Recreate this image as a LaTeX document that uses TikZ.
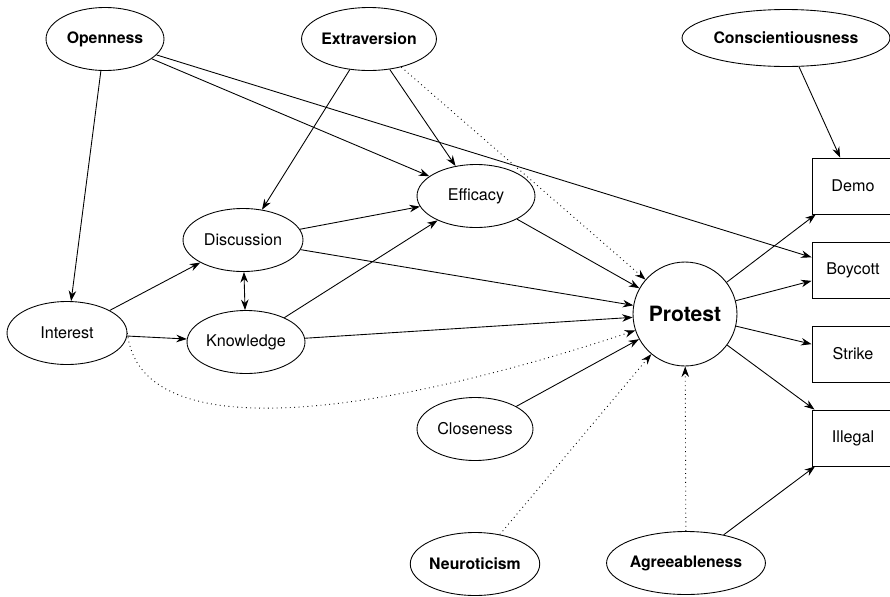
\documentclass[tikz,border=0pt]{standalone}
\usepackage{fontspec}
\setmainfont{TeX Gyre Heros}
\usetikzlibrary{shapes.geometric, arrows.meta}

\begin{document}
\begin{tikzpicture}[x=0.02cm, y=0.02cm, line width=0.5pt,
    >={Stealth[length=0.21cm, width=0.15cm]},
    every node/.style={font=\fontsize{9.2}{11}\selectfont},
    trait/.style={draw, ellipse, inner sep=0, minimum width=2.36cm, minimum height=1.26cm, font=\fontsize{9}{11}\selectfont\bfseries},
    var/.style={draw, ellipse, inner sep=0, minimum width=2.36cm, minimum height=1.26cm},
    act/.style={draw, rectangle, minimum width=1.64cm, minimum height=1.12cm},
    weak/.style={->, dotted}]
    \useasboundingbox (0,0) rectangle (890,-596);
    % personality traits
    \node [trait] (open) at (105, -39) {Openness};
    \node [trait] (extra) at (369, -39) {Extraversion};
    \node [trait, minimum width=4.16cm, minimum height=1.14cm] (consc) at (786, -38) {Conscientiousness};
    \node [trait] (neuro) at (475, -564) {Neuroticism};
    \node [trait, minimum width=2.82cm] (agree) at (686, -563) {Agreeableness};
    % mediators
    \node [var] (effic) at (476, -196) {Efficacy};
    \node [var, minimum width=2.4cm] (disc) at (243, -240) {Discussion};
    \node [var, minimum width=2.4cm] (inter) at (67, -333) {Interest};
    \node [var] (know) at (246, -342) {Knowledge};
    \node [var, minimum width=2.32cm] (close) at (475, -429) {Closeness};
    \node [draw, circle, inner sep=0, minimum size=2.08cm, font=\fontsize{12}{14}\selectfont\bfseries] (prot) at (685, -314) {Protest};
    % forms of protest
    \node [act] (demo) at (853, -186) {Demo};
    \node [act] (boyc) at (853, -270) {Boycott};
    \node [act] (strike) at (853, -354) {Strike};
    \node [act] (illeg) at (853, -438) {Illegal};
    \draw [->] (open) to (inter);
    \draw [->] (open) to (effic);
    \draw [->] (open) to (boyc);
    \draw [->] (extra) to (disc);
    \draw [->] (extra) to (effic);
    \draw [weak] (extra) to (prot);
    \draw [->] (consc) to (demo);
    \draw [->] (inter) to (disc);
    \draw [->] (inter) to (know);
    \draw [weak] (inter.east) .. controls (140, -450) and (380, -415) .. (prot);
    \draw [<->] (disc) to (know);
    \draw [->] (disc) to (effic);
    \draw [->] (disc) to (prot);
    \draw [->] (know) to (effic);
    \draw [->] (know) to (prot);
    \draw [->] (effic) to (prot);
    \draw [->] (close) to (prot);
    \draw [weak] (neuro) to (prot);
    \draw [weak] (agree) to (prot);
    \draw [->] (agree) to (illeg);
    \draw [->] (prot) to (demo);
    \draw [->] (prot) to (boyc);
    \draw [->] (prot) to (strike);
    \draw [->] (prot) to (illeg);
\end{tikzpicture}
\end{document}
